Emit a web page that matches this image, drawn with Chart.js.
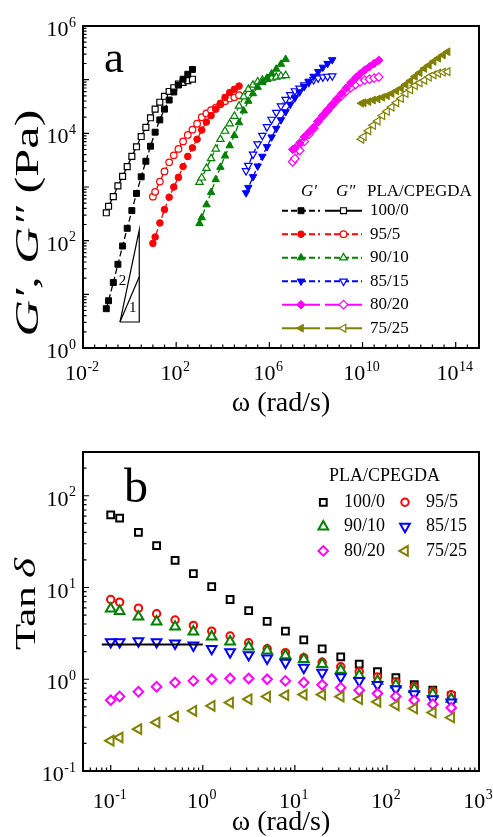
<!DOCTYPE html>
<html><head><meta charset="utf-8">
<script src="https://cdn.jsdelivr.net/npm/chart.js@4.4.1/dist/chart.umd.min.js"></script>
<style>
html,body{margin:0;padding:0;background:#fff;}
#wrap{position:relative;width:493px;height:837px;overflow:hidden;background:#fff;}
canvas{position:absolute;left:0;}
#ca{top:0;} #cb{top:420px;}
</style></head><body>
<div id="wrap"><canvas id="ca" width="493" height="420"></canvas><canvas id="cb" width="493" height="417"></canvas></div>
<script>
const FONT = "'Liberation Serif','Times New Roman',Times,serif";

// ---------- shared categories ----------
const compositions = ['100/0', '95/5', '90/10', '85/15', '80/20', '75/25'];
const colors = ['#000000', '#FF0000', '#008000', '#0000FF', '#FF00FF', '#808000'];
const markerStyles = ['rect', 'circle', 'triangle', 'triangle', 'rectRot', 'triangle'];
const markerRotations = [0, 0, 0, 180, 0, -90];

// ---------- panel a : shifted frequency (rad/s) ----------
const wA_100_0 = [0.1, 0.125, 0.2, 0.315, 0.5, 0.79, 1.25, 1.98, 3.15, 5, 7.9, 12.5, 19.8, 31.5, 50, 79, 125, 198, 315, 500];
const wA_95_5 = [10, 12.5, 20, 31.5, 50, 79, 125, 198, 315, 500, 790, 1250, 1980, 3150, 5000, 7900, 12500, 19800, 31500, 50000];
const wA_90_10 = [1000, 1250, 2000, 3150, 5000, 7900, 12500, 19800, 31500, 50000, 79000, 125000, 198000, 315000, 500000, 790000, 1.25e6, 1.98e6, 3.15e6, 5e6];
const wA_85_15 = [1e5, 1.25e5, 2e5, 3.15e5, 5e5, 7.9e5, 1.25e6, 1.98e6, 3.15e6, 5e6, 7.9e6, 1.25e7, 1.98e7, 3.15e7, 5e7, 7.9e7, 1.25e8, 1.98e8, 3.15e8, 5e8];
const wA_80_20 = [1e7, 1.25e7, 2e7, 3.15e7, 5e7, 7.9e7, 1.25e8, 1.98e8, 3.15e8, 5e8, 7.9e8, 1.25e9, 1.98e9, 3.15e9, 5e9, 7.9e9, 1.25e10, 1.98e10, 3.15e10, 5e10];
const wA_75_25 = [9e9, 1.13e10, 1.8e10, 2.84e10, 4.5e10, 7.1e10, 1.13e11, 1.78e11, 2.84e11, 4.5e11, 7.1e11, 1.13e12, 1.78e12, 2.84e12, 4.5e12, 7.1e12, 1.13e13, 1.78e13, 2.84e13, 4.5e13];

// G' (Pa)
const gp_100_0 = [5.4, 7.6, 16.6, 36.3, 79.4, 170, 363, 759, 1550, 3020, 5750, 10500, 17800, 28200, 41700, 58900, 79400, 102000, 126000, 155000];
const gp_95_5 = [89, 117, 214, 380, 646, 1000, 1510, 2400, 3720, 5370, 7760, 11500, 16200, 21400, 28200, 36300, 46800, 57500, 66100, 75900];
const gp_90_10 = [209, 269, 468, 794, 1380, 2340, 3800, 5890, 9120, 15800, 26300, 39800, 55000, 72400, 89100, 107000, 129000, 158000, 195000, 240000];
const gp_85_15 = [776, 977, 1550, 2450, 3720, 5620, 8510, 12300, 17800, 25100, 34700, 45700, 58900, 74100, 93300, 115000, 141000, 170000, 200000, 234000];
const gp_80_20 = [5010, 5250, 6610, 8510, 10500, 12900, 16600, 20900, 26300, 33900, 43700, 55000, 69200, 87100, 107000, 129000, 151000, 174000, 200000, 229000];
const gp_75_25 = [36300, 37200, 38900, 41700, 43700, 46800, 50100, 55000, 61700, 69200, 81300, 95500, 115000, 135000, 162000, 186000, 219000, 251000, 288000, 331000];

// G'' (Pa)
const gpp_100_0 = [331, 437, 661, 1050, 1580, 2400, 3720, 5620, 8710, 12900, 19500, 28200, 38000, 49000, 60300, 70800, 83200, 89100, 95500, 102000];
const gpp_95_5 = [661, 813, 1260, 1950, 2880, 3890, 5130, 7080, 9330, 11700, 15100, 20000, 23400, 26900, 30200, 34700, 39800, 44700, 46800, 51300];
const gpp_90_10 = [1230, 1480, 2240, 3390, 5130, 7760, 11000, 15100, 20900, 32400, 47900, 66100, 79400, 91200, 97700, 102000, 107000, 112000, 117000, 120000];
const gpp_85_15 = [2000, 2510, 4070, 6310, 9120, 13200, 18200, 24500, 32400, 42700, 52500, 61700, 69200, 79400, 89100, 100000, 107000, 112000, 115000, 117000];
const gpp_80_20 = [2950, 3390, 4790, 7080, 9550, 12300, 16600, 21400, 26900, 33900, 41700, 50100, 60300, 70800, 81300, 91200, 97700, 102000, 107000, 112000];
const gpp_75_25 = [7760, 8710, 11200, 14100, 17000, 21400, 25700, 30900, 37200, 44700, 55000, 64600, 77600, 87100, 97700, 112000, 123000, 132000, 138000, 141000];

// slope triangle (2 and 1)
const slopeTriOmega = [0.387, 2.6, 2.6, 0.387];
const slopeTriG = [3.05, 3.05, 157, 3.05];
const slopeOneOmega = [0.387, 2.6];
const slopeOneG = [3.05, 21.3];

// axis ticks panel a (value, exponent of the 10^n label)
const xTicksA = [1e-2, 1e2, 1e6, 1e10, 1e14];
const xTickExpA = ['-2', '2', '6', '10', '14'];
const yTicksA = [1, 100, 1e4, 1e6];
const yTickExpA = ['0', '2', '4', '6'];

// ---------- panel b : tan delta ----------
const omegaB = [0.1, 0.125, 0.2, 0.315, 0.5, 0.79, 1.25, 1.98, 3.15, 5, 7.9, 12.5, 19.8, 31.5, 50, 79, 125, 198, 315, 500];
const tan_100_0 = [62, 57, 40, 28.6, 19.8, 14.2, 10.2, 7.4, 5.6, 4.27, 3.35, 2.68, 2.14, 1.75, 1.46, 1.21, 1.04, 0.875, 0.76, 0.66];
const tan_95_5 = [7.4, 6.93, 5.96, 5.17, 4.42, 3.86, 3.35, 2.96, 2.5, 2.15, 1.95, 1.72, 1.53, 1.37, 1.21, 1.06, 0.94, 0.83, 0.74, 0.68];
const tan_90_10 = [5.86, 5.53, 4.8, 4.24, 3.73, 3.3, 2.91, 2.57, 2.26, 2.05, 1.82, 1.65, 1.46, 1.26, 1.1, 0.96, 0.87, 0.78, 0.69, 0.61];
const tan_85_15 = [2.55, 2.55, 2.61, 2.55, 2.46, 2.34, 2.15, 1.98, 1.84, 1.69, 1.52, 1.34, 1.18, 1.06, 0.96, 0.87, 0.78, 0.69, 0.61, 0.56];
const tan_80_20 = [0.59, 0.65, 0.73, 0.83, 0.92, 0.96, 1.0, 1.02, 1.02, 1.0, 0.96, 0.92, 0.87, 0.81, 0.76, 0.7, 0.65, 0.59, 0.535, 0.49];
const tan_75_25 = [0.214, 0.232, 0.286, 0.338, 0.393, 0.453, 0.513, 0.557, 0.606, 0.648, 0.67, 0.68, 0.68, 0.648, 0.606, 0.567, 0.52, 0.48, 0.434, 0.383];
const refLineOmega = [0.08, 1];
const refLineTan = [2.4, 2.4];

const xTicksB = [0.1, 1, 10, 100, 1000];
const xTickExpB = ['-1', '0', '1', '2', '3'];
const yTicksB = [0.1, 1, 10, 100];
const yTickExpB = ['-1', '0', '1', '2'];

// ---------- helpers ----------
const wA = [wA_100_0, wA_95_5, wA_90_10, wA_85_15, wA_80_20, wA_75_25];
const gpA = [gp_100_0, gp_95_5, gp_90_10, gp_85_15, gp_80_20, gp_75_25];
const gppA = [gpp_100_0, gpp_95_5, gpp_90_10, gpp_85_15, gpp_80_20, gpp_75_25];
const tanB = [tan_100_0, tan_95_5, tan_90_10, tan_85_15, tan_80_20, tan_75_25];
const pts = (xs, ys) => xs.map((x, i) => ({x: x, y: ys[i]}));

const gpDash = [[6, 3], [6, 3], [6, 3], [6, 3], [], []];
const gppDash = [[], [6, 3], [6, 3], [6, 3], [], []];
const radiusA = [4.2, 3.3, 4.3, 4.3, 4.3, 4.5];
const radiusB = [4.8, 3.7, 5.6, 5.6, 4.8, 5.6];

function logTicks(minExp, maxExp) {
  const out = [];
  for (let e = minExp; e <= maxExp; e++) for (let m = 1; m < 10; m++) out.push({v: m * Math.pow(10, e), major: m === 1});
  return out;
}

function powerLabel(ctx, exp, x, baseY, align) {
  ctx.save();
  ctx.fillStyle = '#000';
  ctx.textBaseline = 'alphabetic';
  ctx.textAlign = 'left';
  ctx.font = '22px ' + FONT;
  const wb = ctx.measureText('10').width;
  ctx.font = '14px ' + FONT;
  const we = ctx.measureText(exp).width;
  const total = wb + we + 0.5;
  let x0 = align === 'right' ? x - total : x - total / 2;
  ctx.font = '22px ' + FONT;
  ctx.fillText('10', x0, baseY);
  ctx.font = '14px ' + FONT;
  ctx.fillText(exp, x0 + wb + 0.5, baseY - 9.5);
  ctx.restore();
}

function drawAxes(chart, xt, yt, xTicks, xExp, yTicks, yExp, xLabelBase) {
  const {ctx, chartArea: a, scales} = chart;
  ctx.save();
  ctx.strokeStyle = '#000';
  ctx.lineWidth = 1.2;
  ctx.beginPath();
  xt.forEach(t => {
    const p = scales.x.getPixelForValue(t.v);
    if (p < a.left - 0.5 || p > a.right + 0.5) return;
    ctx.moveTo(p, a.bottom); ctx.lineTo(p, a.bottom - (t.major ? 6 : 3.5));
  });
  yt.forEach(t => {
    const p = scales.y.getPixelForValue(t.v);
    if (p < a.top - 0.5 || p > a.bottom + 0.5) return;
    ctx.moveTo(a.left, p); ctx.lineTo(a.left + (t.major ? 6 : 3.5), p);
  });
  ctx.stroke();
  ctx.lineWidth = 2;
  ctx.strokeRect(a.left, a.top, a.right - a.left, a.bottom - a.top);
  ctx.restore();
  xTicks.forEach((v, i) => powerLabel(ctx, xExp[i], scales.x.getPixelForValue(v) - 1, a.bottom + xLabelBase, 'center'));
  yTicks.forEach((v, i) => powerLabel(ctx, yExp[i], a.left - 7, scales.y.getPixelForValue(v) + 10, 'right'));
}

// rotated axis title: stretched along the text to `length`, squeezed across by `sy`
function drawRotatedTitle(ctx, parts, baselineX, centerY, length, size, sy) {
  ctx.save();
  let total = 0;
  parts.forEach(p => { ctx.font = (p.i ? 'italic ' : '') + size + 'px ' + FONT; p.w = ctx.measureText(p.t).width; total += p.w; });
  ctx.translate(baselineX, centerY);
  ctx.rotate(-Math.PI / 2);
  ctx.scale(length / total, sy);
  ctx.textBaseline = 'alphabetic';
  ctx.textAlign = 'left';
  ctx.fillStyle = '#000';
  let x = -total / 2;
  parts.forEach(p => { ctx.font = (p.i ? 'italic ' : '') + size + 'px ' + FONT; ctx.fillText(p.t, x, 0); x += p.w; });
  ctx.restore();
}

function marker(ctx, ds, x, y) {
  ctx.save();
  ctx.setLineDash([]);
  ctx.fillStyle = ds.pointBackgroundColor;
  ctx.strokeStyle = ds.pointBorderColor;
  ctx.lineWidth = ds.pointBorderWidth;
  Chart.helpers.drawPoint(ctx, {pointStyle: ds.pointStyle, rotation: ds.pointRotation || 0, radius: ds.pointRadius, borderWidth: ds.pointBorderWidth}, x, y);
  ctx.restore();
}

function sample(ctx, ds, x1, x2, y) {
  ctx.save();
  ctx.strokeStyle = ds.borderColor;
  ctx.lineWidth = 2;
  ctx.setLineDash(ds.borderDash || []);
  ctx.beginPath(); ctx.moveTo(x1, y); ctx.lineTo(x2, y); ctx.stroke();
  ctx.restore();
  marker(ctx, ds, (x1 + x2) / 2, y);
}

// ---------- panel a ----------
const dsA = [];
compositions.forEach((c, i) => {
  dsA.push({
    label: c + " G'", data: pts(wA[i], gpA[i]), showLine: true,
    borderColor: colors[i], borderWidth: 1.3, borderDash: gpDash[i],
    pointStyle: markerStyles[i], pointRotation: markerRotations[i], pointRadius: radiusA[i],
    pointBackgroundColor: colors[i], pointBorderColor: colors[i], pointBorderWidth: 1,
    order: 19 - 2 * i
  });
  dsA.push({
    label: c + ' G"', data: pts(wA[i], gppA[i]), showLine: true,
    borderColor: colors[i], borderWidth: 1.3, borderDash: gppDash[i],
    pointStyle: markerStyles[i], pointRotation: markerRotations[i], pointRadius: radiusA[i],
    pointBackgroundColor: '#FFFFFF', pointBorderColor: colors[i], pointBorderWidth: 1.2,
    order: 20 - 2 * i
  });
});
dsA.push({label: 'slope', data: pts(slopeTriOmega, slopeTriG), showLine: true, borderColor: '#000', borderWidth: 1.2, pointRadius: 0, order: 0});
dsA.push({label: 'slope1', data: pts(slopeOneOmega, slopeOneG), showLine: true, borderColor: '#000', borderWidth: 1.2, pointRadius: 0, order: 0});

const decorA = {
  id: 'decorA',
  afterDraw(chart) {
    const ctx = chart.ctx;
    const xt = [];
    for (let k = -4; k <= 30; k++) xt.push({v: Math.pow(10, k / 2), major: xTicksA.some(t => Math.abs(Math.log10(t) - k / 2) < 1e-9)});
    drawAxes(chart, xt, logTicks(0, 5).concat([{v: 1e6, major: true}]), xTicksA, xTickExpA, yTicksA, yTickExpA, 32);
    ctx.save();
    ctx.fillStyle = '#000';
    ctx.font = '45px ' + FONT; ctx.textBaseline = 'alphabetic'; ctx.textAlign = 'left';
    ctx.fillText('a', 104, 72);
    const sx = chart.scales.x, sy = chart.scales.y;
    ctx.font = '15px ' + FONT; ctx.textBaseline = 'middle'; ctx.textAlign = 'center';
    ctx.fillText('2', sx.getPixelForValue(0.5), sy.getPixelForValue(17.7));
    ctx.fillText('1', sx.getPixelForValue(1.36), sy.getPixelForValue(5.6));
    ctx.textAlign = 'left';
    ctx.font = 'italic 17px ' + FONT;
    ctx.fillText('G′', 301, 192); ctx.fillText('G″', 336, 192);
    ctx.font = '17px ' + FONT;
    ctx.fillText('PLA/CPEGDA', 367, 192);
    compositions.forEach((c, i) => {
      const y = 210.7 + i * 23.5;
      sample(ctx, chart.data.datasets[2 * i], 282, 320, y);
      sample(ctx, chart.data.datasets[2 * i + 1], 325, 362, y);
      ctx.fillStyle = '#000'; ctx.font = '17px ' + FONT; ctx.textBaseline = 'middle'; ctx.textAlign = 'left';
      ctx.fillText(c, 370, y);
    });
    ctx.restore();
    drawRotatedTitle(ctx, [{t: 'G', i: true}, {t: '′, ', i: true}, {t: 'G', i: true}, {t: '″ ', i: true}, {t: '(Pa)'}], 38, 223, 227, 42, 0.8);
  }
};

new Chart(document.getElementById('ca'), {
  type: 'scatter',
  data: {datasets: dsA},
  options: {
    responsive: false, animation: false, devicePixelRatio: 1,
    layout: {padding: {top: 26, right: 14, left: 0, bottom: 0}},
    plugins: {legend: {display: false}, tooltip: {enabled: false}},
    scales: {
      x: {
        type: 'logarithmic', min: 0.01, max: 1e15, bounds: 'data',
        afterBuildTicks: s => { s.ticks = xTicksA.map(v => ({value: v})); },
        afterFit: s => { s.height = 72; },
        grid: {display: false, drawTicks: false}, border: {display: false},
        ticks: {display: false},
        title: {display: true, text: 'ω (rad/s)', color: '#000', font: {family: FONT, size: 28, lineHeight: 1.2}, padding: {top: 0, bottom: 0}}
      },
      y: {
        type: 'logarithmic', min: 1, max: 1e6, bounds: 'data',
        afterBuildTicks: s => { s.ticks = yTicksA.map(v => ({value: v})); },
        afterFit: s => { s.width = 83; },
        grid: {display: false, drawTicks: false}, border: {display: false},
        ticks: {display: false}
      }
    }
  },
  plugins: [decorA]
});

// ---------- panel b ----------
const dsB = [];
compositions.forEach((c, i) => {
  dsB.push({
    label: c, data: pts(omegaB, tanB[i]), showLine: false,
    pointStyle: markerStyles[i], pointRotation: markerRotations[i], pointRadius: radiusB[i],
    pointBackgroundColor: '#FFFFFF', pointBorderColor: colors[i], pointBorderWidth: 2,
    borderColor: colors[i], backgroundColor: '#FFFFFF',
    order: 10 - i
  });
});
dsB.push({label: 'ref', data: pts(refLineOmega, refLineTan), showLine: true, borderColor: '#000', borderWidth: 2, pointRadius: 0, order: 0});

const decorB = {
  id: 'decorB',
  afterDraw(chart) {
    const ctx = chart.ctx;
    drawAxes(chart, logTicks(-2, 2).concat([{v: 1000, major: true}]), logTicks(-1, 2), xTicksB, xTickExpB, yTicksB, yTickExpB, 37);
    ctx.save();
    ctx.fillStyle = '#000';
    ctx.font = '48px ' + FONT; ctx.textBaseline = 'alphabetic'; ctx.textAlign = 'left';
    ctx.fillText('b', 124, 82);
    ctx.font = '18px ' + FONT; ctx.textBaseline = 'middle';
    ctx.fillText('PLA/CPEGDA', 329, 56.7);
    compositions.forEach((c, i) => {
      const col = i % 2, row = Math.floor(i / 2);
      const y = 82.3 + row * 24.3;
      marker(ctx, chart.data.datasets[i], col ? 405 : 323.3, y);
      ctx.fillStyle = '#000'; ctx.font = '18px ' + FONT; ctx.textBaseline = 'middle'; ctx.textAlign = 'left';
      ctx.fillText(c, col ? 426 : 344, y);
    });
    ctx.restore();
    drawRotatedTitle(ctx, [{t: 'Tan'}, {t: '\u2009'}, {t: 'δ', i: true}], 35, 184, 92, 41, 0.74);
  }
};

new Chart(document.getElementById('cb'), {
  type: 'scatter',
  data: {datasets: dsB},
  options: {
    responsive: false, animation: false, devicePixelRatio: 1,
    layout: {padding: {top: 32, right: 14, left: 0, bottom: 0}},
    plugins: {legend: {display: false}, tooltip: {enabled: false}},
    scales: {
      x: {
        type: 'logarithmic', min: 0.05, max: 1000, bounds: 'data',
        afterBuildTicks: s => { s.ticks = xTicksB.map(v => ({value: v})); },
        afterFit: s => { s.height = 66; },
        grid: {display: false, drawTicks: false}, border: {display: false},
        ticks: {display: false},
        title: {display: true, text: 'ω (rad/s)', color: '#000', font: {family: FONT, size: 28, lineHeight: 1.0}, padding: {top: 0, bottom: 0}}
      },
      y: {
        type: 'logarithmic', min: 0.1, max: 300, bounds: 'data',
        afterBuildTicks: s => { s.ticks = yTicksB.map(v => ({value: v})); },
        afterFit: s => { s.width = 83; },
        grid: {display: false, drawTicks: false}, border: {display: false},
        ticks: {display: false}
      }
    }
  },
  plugins: [decorB]
});
</script>
</body></html>
